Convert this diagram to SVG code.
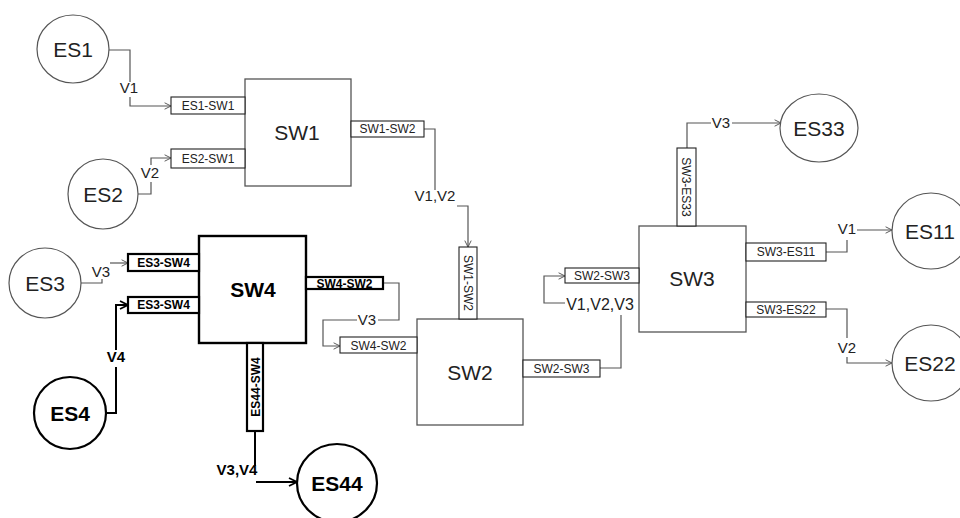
<svg xmlns="http://www.w3.org/2000/svg" width="960" height="518" viewBox="0 0 960 518">
<defs>
<marker id="arr" viewBox="0 0 10 10" refX="9" refY="5" markerWidth="8" markerHeight="8" markerUnits="userSpaceOnUse" orient="auto">
<path d="M1,1 L9,5 L1,9" fill="none" stroke="#555" stroke-width="1.2"/>
</marker>
<marker id="arrb" viewBox="0 0 10 10" refX="9" refY="5" markerWidth="10" markerHeight="10" markerUnits="userSpaceOnUse" orient="auto">
<path d="M1,1 L9,5 L1,9" fill="none" stroke="#000" stroke-width="1.8"/>
</marker>
</defs>
<style>
text{font-family:"Liberation Sans",Arial,sans-serif;text-anchor:middle;fill:#222}
.es{fill:#fff;stroke:#555;stroke-width:1.2}
.esb{fill:#fff;stroke:#000;stroke-width:2.2}
.sw{fill:#fff;stroke:#555;stroke-width:1.3}
.swb{fill:#fff;stroke:#000;stroke-width:2.4}
.pt{fill:#fff;stroke:#222;stroke-width:1.1}
.ptb{fill:#fff;stroke:#000;stroke-width:2.2}
.nl{font-size:21px}
.nlb{font-size:21px;font-weight:bold;fill:#000}
.pl{font-size:12px}
.plb{font-size:12px;font-weight:bold;fill:#000}
.vl{font-size:15px}
.vlb{font-size:15px;font-weight:bold;fill:#000}
.c{fill:none;stroke:#555;stroke-width:1.2}
.cb{fill:none;stroke:#000;stroke-width:2}
</style>

<g id="connectors">
<path class="c" d="M109,50 H130 V82"/>
<path class="c" d="M130,97 V106 H171" marker-end="url(#arr)"/>
<path class="c" d="M138,194 H151 V182"/>
<path class="c" d="M151,165 V158 H171" marker-end="url(#arr)"/>
<path class="c" d="M81,283 H102 V279"/>
<path class="c" d="M110,263 H128" marker-end="url(#arr)"/>
<path class="cb" d="M106,413 H116 V367"/>
<path class="cb" d="M116,350 V305 H128" marker-end="url(#arrb)"/>
<path class="c" d="M383,283 H399 V320 H378"/>
<path class="c" d="M357,320 H323 V346 H340" marker-end="url(#arr)"/>
<path class="cb" d="M255,431 V466"/>
<path class="cb" d="M256,482 H297" marker-end="url(#arrb)"/>
<path class="c" d="M424,129 H435 V190"/>
<path class="c" d="M457,206 H468 V247" marker-end="url(#arr)"/>
<path class="c" d="M600,368 H621 V315"/>
<path class="c" d="M565,303 H544 V276 H565" marker-end="url(#arr)"/>
<path class="c" d="M687,148 V123 H711"/>
<path class="c" d="M732,123 H781" marker-end="url(#arr)"/>
<path class="c" d="M826,252 H847 V240"/>
<path class="c" d="M857,230 H892" marker-end="url(#arr)"/>
<path class="c" d="M826,309 H847 V338"/>
<path class="c" d="M847,357 V363 H892" marker-end="url(#arr)"/>
<text class="vl" x="129" y="93">V1</text>
<text class="vl" x="150" y="178">V2</text>
<text class="vl" x="101" y="277">V3</text>
<text class="vlb" x="116" y="362">V4</text>
<text class="vl" x="367" y="325">V3</text>
<text class="vlb" x="237" y="475">V3,V4</text>
<text class="vl" x="435" y="201">V1,V2</text>
<text class="vl" x="600" y="310" style="font-size:16px">V1,V2,V3</text>
<text class="vl" x="721" y="128">V3</text>
<text class="vl" x="847" y="234">V1</text>
<text class="vl" x="847" y="353">V2</text>
</g>

<g id="ES1"><ellipse class="es" cx="73" cy="49" rx="36" ry="34"/><text class="nl" x="73" y="57">ES1</text></g>
<g id="ES2"><ellipse class="es" cx="103" cy="194" rx="35" ry="35"/><text class="nl" x="103" y="202">ES2</text></g>
<g id="ES3"><ellipse class="es" cx="45" cy="283" rx="36" ry="35"/><text class="nl" x="45" y="291">ES3</text></g>
<g id="ES4"><ellipse class="esb" cx="70" cy="413" rx="36" ry="36"/><text class="nlb" x="70" y="421">ES4</text></g>
<g id="ES44"><ellipse class="esb" cx="337" cy="483" rx="40" ry="39"/><text class="nlb" x="337" y="491">ES44</text></g>
<g id="ES33"><ellipse class="es" cx="819" cy="128" rx="39" ry="34"/><text class="nl" x="819" y="136">ES33</text></g>
<g id="ES11"><ellipse class="es" cx="931" cy="231" rx="39" ry="38"/><text class="nl" x="930" y="239">ES11</text></g>
<g id="ES22"><ellipse class="es" cx="931" cy="363" rx="39" ry="38"/><text class="nl" x="930" y="371">ES22</text></g>

<g id="SW1">
<rect class="sw" x="245" y="79" width="106" height="107"/><text class="nl" x="297" y="140">SW1</text>
<rect class="pt" x="171" y="97" width="74" height="17"/><text class="pl" x="208" y="110">ES1-SW1</text>
<rect class="pt" x="171" y="149" width="74" height="19"/><text class="pl" x="208" y="163">ES2-SW1</text>
<rect class="pt" x="351" y="121" width="73" height="16"/><text class="pl" x="387.5" y="133">SW1-SW2</text>
</g>

<g id="SW4">
<rect class="swb" x="199" y="236" width="107" height="107"/><text class="nlb" x="253" y="297">SW4</text>
<rect class="ptb" x="128" y="254" width="71" height="17"/><text class="plb" x="163.5" y="267">ES3-SW4</text>
<rect class="ptb" x="128" y="297" width="71" height="16"/><text class="plb" x="163.5" y="309">ES3-SW4</text>
<rect class="ptb" x="306" y="277" width="77" height="12"/><text class="plb" x="344.5" y="287.5">SW4-SW2</text>
<rect class="ptb" x="247" y="343" width="16" height="88"/><text class="plb" transform="translate(259.5,387) rotate(-90)" x="0" y="0">ES44-SW4</text>
</g>

<g id="SW2">
<rect class="sw" x="417" y="319" width="106" height="106"/><text class="nl" x="470" y="380">SW2</text>
<rect class="pt" x="340" y="337" width="77" height="16"/><text class="pl" x="378.5" y="349.5">SW4-SW2</text>
<rect class="pt" x="459" y="247" width="18" height="72"/><text class="pl" transform="translate(463.5,283) rotate(90)" x="0" y="0">SW1-SW2</text>
<rect class="pt" x="523" y="360" width="77" height="17"/><text class="pl" x="561.5" y="373">SW2-SW3</text>
</g>

<g id="SW3">
<rect class="sw" x="639" y="226" width="107" height="106"/><text class="nl" x="692" y="286">SW3</text>
<rect class="pt" x="565" y="268" width="74" height="15"/><text class="pl" x="602" y="280">SW2-SW3</text>
<rect class="pt" x="677" y="148" width="19" height="78"/><text class="pl" transform="translate(682,187) rotate(90)" x="0" y="0">SW3-ES33</text>
<rect class="pt" x="746" y="243" width="80" height="18"/><text class="pl" x="786" y="256">SW3-ES11</text>
<rect class="pt" x="746" y="302" width="80" height="15"/><text class="pl" x="786" y="313.5">SW3-ES22</text>
</g>
</svg>
